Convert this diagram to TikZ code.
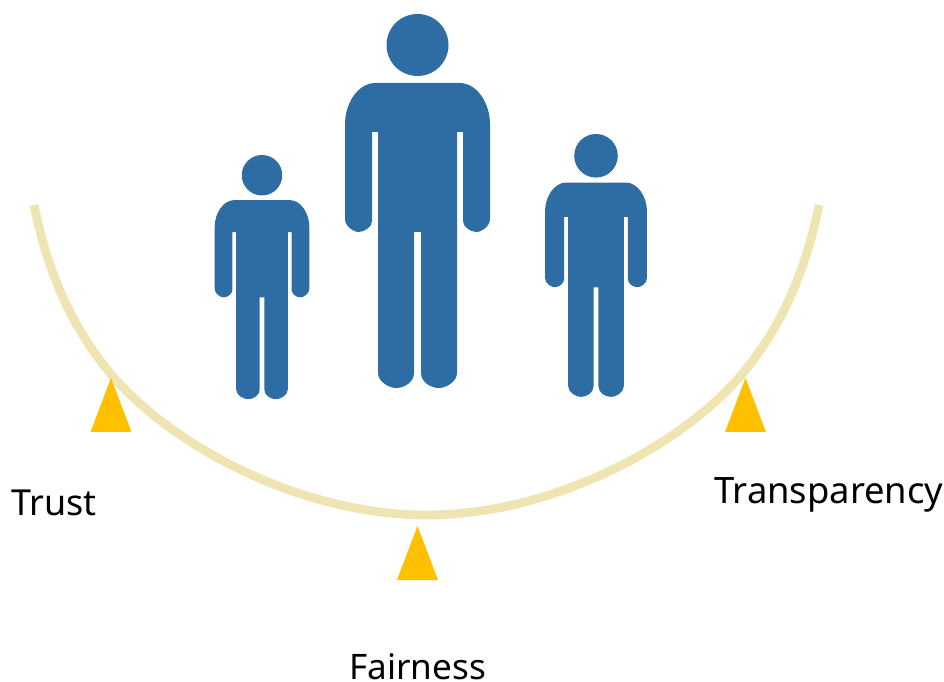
\documentclass[tikz,border=0pt]{standalone}
\usepackage{fontspec}
\setmainfont{Noto Sans}
\definecolor{figblue}{HTML}{2E6DA4}
\definecolor{beamtan}{HTML}{EFE5B2}
\definecolor{pivotgold}{HTML}{FFC000}
\tikzset{
	label/.style={anchor=base west, inner sep=0pt, font=\fontsize{#1}{24pt}\selectfont},
	person/.pic={
		\fill[figblue] (0, 31) circle (31);
		\fill[figblue] (-42, 69) -- (42, 69)
			.. controls (60, 69) and (72.5, 90) .. (72.5, 110)
			-- (72.5, 205) .. controls (72.5, 213) and (63, 218) .. (59, 218)
			.. controls (53, 218) and (45.5, 213) .. (45.5, 207)
			-- (45.5, 118) -- (39.5, 118) -- (39.5, 359)
			.. controls (39.5, 368) and (28, 374) .. (21.5, 374)
			.. controls (13, 374) and (3.5, 368) .. (3.5, 359)
			-- (3.5, 218) -- (-3.5, 218) -- (-3.5, 359)
			.. controls (-3.5, 368) and (-13, 374) .. (-21.5, 374)
			.. controls (-28, 374) and (-39.5, 368) .. (-39.5, 359)
			-- (-39.5, 118) -- (-45.5, 118) -- (-45.5, 207)
			.. controls (-45.5, 213) and (-53, 218) .. (-59, 218)
			.. controls (-63, 218) and (-72.5, 213) .. (-72.5, 205)
			-- (-72.5, 110) .. controls (-72.5, 90) and (-60, 69) .. (-42, 69) -- cycle;
	},
	pivot/.pic={
		\fill[pivotgold] (0, 0) -- (20.5, 54) -- (-20.5, 54) -- cycle;
	}
}
\begin{document}
\begin{tikzpicture}[x=0.02cm, y=-0.02cm]
	\useasboundingbox (0, 0) rectangle (944, 682);
	
	% beam
	\draw[beamtan, line width=5pt] (34, 205)
		.. controls (50, 285) and (80, 337) .. (110, 373)
		.. controls (170, 445) and (300, 515) .. (426.5, 515)
		.. controls (553, 515) and (683, 445) .. (743, 373)
		.. controls (773, 337) and (803, 285) .. (819, 205);
	
	\pic at (417.5, 14) {person};
	\pic[scale=0.653] at (262, 155) {person};
	\pic[scale=0.703] at (596, 134) {person};
	
	\pic at (111, 378) {pivot};
	\pic at (417.5, 526) {pivot};
	\pic at (745.5, 378) {pivot};
	
	\node[label=20.4pt] (trust) at (11, 515) {Trust};
	\node[label=20.7pt] (transparency) at (714, 503) {Transparency};
	\node[label=20pt] (fairness) at (349, 679) {Fairness};
\end{tikzpicture}
\end{document}
